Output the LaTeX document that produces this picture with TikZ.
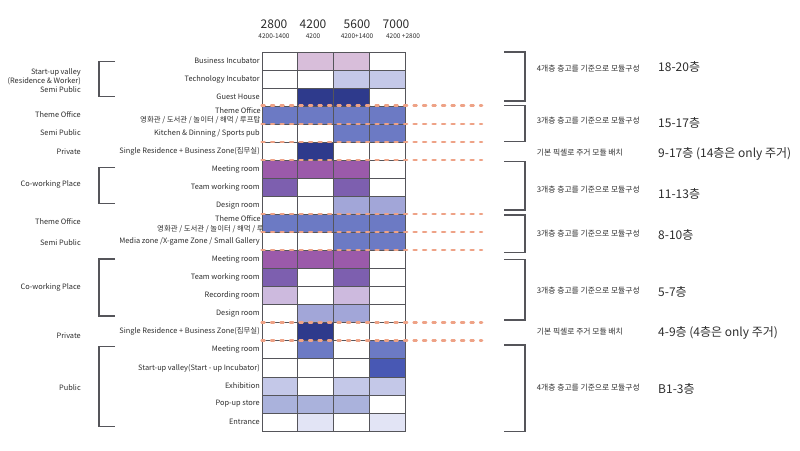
\documentclass[tikz,border=0pt]{standalone}
\usepackage{fontspec}
\setmainfont{Noto Sans CJK KR}
\usepackage{tikz}
\usetikzlibrary{positioning}

\definecolor{mauvelt}{RGB}{216,190,218}
\definecolor{lavlt}{RGB}{196,200,232}
\definecolor{navy}{RGB}{46,58,140}
\definecolor{midblue}{RGB}{108,122,196}
\definecolor{purp}{RGB}{155,90,170}
\definecolor{viol}{RGB}{125,95,175}
\definecolor{peri}{RGB}{162,166,216}
\definecolor{lilac}{RGB}{205,186,222}
\definecolor{royal}{RGB}{72,88,180}
\definecolor{paleblue}{RGB}{170,178,220}
\definecolor{faint}{RGB}{226,228,245}
\definecolor{salmon}{RGB}{238,162,134}
\definecolor{gridline}{RGB}{85,85,90}
\definecolor{ink}{RGB}{45,45,45}

\begin{document}
\begin{tikzpicture}[x=1pt,y=-1pt,inner sep=0pt,text=ink,
      cell box/.style={draw=gridline,line width=0.8pt,minimum width=35.75pt,minimum height=18.05pt},
      row label/.style={font=\fontsize{7.4}{8}\selectfont,anchor=east},
      group label/.style={font=\fontsize{7.4}{9}\selectfont,anchor=east,align=right},
      head num/.style={font=\fontsize{12}{14}\selectfont},
      sub num/.style={font=\fontsize{6.5}{7}\selectfont},
      note/.style={font=\fontsize{7.8}{9}\selectfont,anchor=west},
      floor label/.style={font=\fontsize{12}{14}\selectfont,anchor=west},
      bracket/.style={draw=gridline,line width=1.3pt},
      module line/.style={draw=salmon,line width=2.6pt,line cap=round,dash pattern=on 3pt off 6.5pt}]
      \useasboundingbox (0,0) rectangle (800,450);

      % widths on top
      \node[head num] (w2800) at (274,24) {2800};
      \node[head num] (w4200) at (313,24) {4200};
      \node[head num] (w5600) at (357,24) {5600};
      \node[head num] (w7000) at (396,24) {7000};
      \node[sub num] (s2800) [below=5pt of w2800] {4200-1400};
      \node[sub num] (s4200) [below=5pt of w4200] {4200};
      \node[sub num] (s5600) [below=5pt of w5600] {4200+1400};
      \node[sub num] (s7000) [below=5pt of w7000,xshift=7pt] {4200 +2800};

      % room names (under the grid, so long ones get cut)
      \foreach \r/\t in {1/Business Incubator,2/Technology Incubator,3/Guest House,
          5/{Kitchen \& Dinning / Sports pub},6/{Single Residence + Business Zone(집무실)},
          7/Meeting room,8/Team working room,9/Design room,
          11/{Media zone /X-game Zone / Small Gallery},12/Meeting room,13/Team working room,
          14/Recording room,15/Design room,16/{Single Residence + Business Zone(집무실)},
          17/Meeting room,18/{Start-up valley(Start - up Incubator)},19/Exhibition,
          20/Pop-up store,21/Entrance}
        \node[row label] (room-\r) at (260,{52+18.05*(\r-0.5)}) {\t};
      \node[row label] (room-4) at (261,110.7) {Theme Office};
      \node[row label,anchor=west] (room-4b) at (140,120) {영화관 / 도서관 / 놀이터 / 해먹 / 루프탑};
      \node[row label] (room-10) at (261,219) {Theme Office};
      \node[row label,anchor=west] (room-10b) at (157,229) {영화관 / 도서관 / 놀이터 / 해먹 / 루프탑};

      % grid
      \foreach \r/\a/\b/\c/\d in {1/white/mauvelt/mauvelt/white,2/white/white/lavlt/lavlt,
          3/white/navy/navy/white,4/midblue/midblue/midblue/midblue,5/white/white/midblue/midblue,
          6/white/navy/white/white,7/purp/purp/purp/white,8/viol/white/viol/white,
          9/white/white/peri/peri,10/midblue/midblue/midblue/midblue,11/white/white/midblue/midblue,
          12/purp/purp/purp/white,13/viol/white/viol/white,14/lilac/white/lilac/white,
          15/white/peri/peri/white,16/white/navy/white/white,17/white/midblue/white/midblue,
          18/white/white/white/royal,19/lavlt/white/lavlt/lavlt,20/paleblue/paleblue/paleblue/white,
          21/white/faint/white/faint}
        \foreach \col [count=\j] in {\a,\b,\c,\d}
          \node[cell box,fill=\col] (cell-\r-\j) at ({262+35.75*(\j-0.5)},{52+18.05*(\r-0.5)}) {};

      % module lines
      \coordinate (lineend) at (482,0);
      \foreach \r in {4,5,6,7,10,11,12,16,17}
        \draw[module line] (cell-\r-1.north west) -- (cell-\r-1.north west -| lineend);

      % groups on the left
      \node[group label] (g-startup) at (81,80.5) {Start-up valley\\(Residence \& Worker)\\Semi Public};
      \node[group label] (g-theme1) at (81,115) {Theme Office};
      \node[group label] (g-semi1) at (81,132.7) {Semi Public};
      \node[group label] (g-priv1) at (81,152) {Private};
      \node[group label] (g-cowork1) at (81,184.3) {Co-working Place};
      \node[group label] (g-theme2) at (81,221.7) {Theme Office};
      \node[group label] (g-semi2) at (81,242.3) {Semi Public};
      \node[group label] (g-cowork2) at (81,287.3) {Co-working Place};
      \node[group label] (g-priv2) at (81,336) {Private};
      \node[group label] (g-public) at (81,387.7) {Public};

      \foreach \top/\bot in {61.7/96.7,167.7/203.3,259/316,346.7/426.7}
        \draw[bracket] (115,\top) -- (99,\top) -- (99,\bot) -- (115,\bot);
      \foreach \top/\bot in {52/101,105.7/141.7,161.7/210,215/252.3,259.3/320,345/431.7}
        \draw[bracket] (504,\top) -- (525,\top) -- (525,\bot) -- (504,\bot);

      % notes on the right
      \node[note] (n1) at (536.7,68.3) {4개층 층고를 기준으로 모듈구성};
      \node[note] (n2) at (536.7,121) {3개층 층고를 기준으로 모듈구성};
      \node[note] (n3) at (536.7,152.7) {기본 픽셀로 주거 모듈 배치};
      \node[note] (n4) at (536.7,189.3) {3개층 층고를 기준으로 모듈구성};
      \node[note] (n5) at (536.7,234) {3개층 층고를 기준으로 모듈구성};
      \node[note] (n6) at (536.7,290.7) {3개층 층고를 기준으로 모듈구성};
      \node[note] (n7) at (536.7,331.7) {기본 픽셀로 주거 모듈 배치};
      \node[note] (n8) at (536.7,387.7) {4개층 층고를 기준으로 모듈구성};

      \node[floor label] (f1) at (658,66.7) {18-20층};
      \node[floor label] (f2) at (658,122.7) {15-17층};
      \node[floor label] (f3) at (658,154.3) {9-17층 (14층은 only 주거)};
      \node[floor label] (f4) at (658,194) {11-13층};
      \node[floor label] (f5) at (658,235) {8-10층};
      \node[floor label] (f6) at (658,291.7) {5-7층};
      \node[floor label] (f7) at (658,332.7) {4-9층 (4층은 only 주거)};
      \node[floor label] (f8) at (658,389.3) {B1-3층};
\end{tikzpicture}
\end{document}
